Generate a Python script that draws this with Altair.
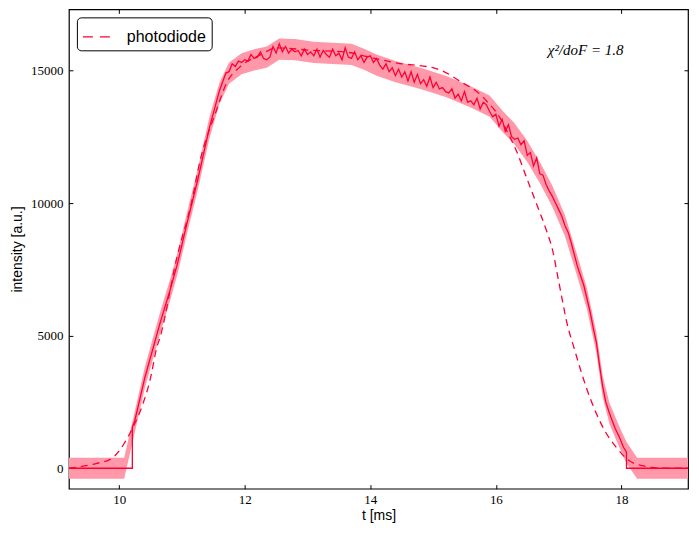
import altair as alt
import pandas as pd

# ---- data ----
# measured signal (solid line)
t_meas = [9.20, 10.21, 10.21, 10.25, 10.41, 10.65, 10.81, 10.93, 11.08, 11.25, 11.44, 11.60,
          11.70, 11.75, 11.80, 11.85, 11.90, 11.95, 12.00, 12.05, 12.10, 12.15, 12.20, 12.25,
          12.30, 12.35, 12.40, 12.45, 12.50, 12.55, 12.60, 12.65, 12.70, 12.75, 12.80, 12.85,
          12.90, 12.95, 13.00, 13.05, 13.10, 13.15, 13.20, 13.25, 13.30, 13.35, 13.40, 13.45,
          13.50, 13.55, 13.60, 13.65, 13.70, 13.75, 13.80, 13.85, 13.90, 13.95, 14.00, 14.05,
          14.10, 14.15, 14.20, 14.25, 14.30, 14.35, 14.40, 14.45, 14.50, 14.55, 14.60, 14.65,
          14.70, 14.75, 14.80, 14.85, 14.90, 14.95, 15.00, 15.05, 15.10, 15.15, 15.20, 15.25,
          15.30, 15.35, 15.40, 15.45, 15.50, 15.55, 15.60, 15.65, 15.70, 15.75, 15.80, 15.85,
          15.90, 15.95, 16.00, 16.05, 16.10, 16.15, 16.20, 16.25, 16.30, 16.35, 16.40, 16.45,
          16.50, 16.55, 16.60, 16.65, 16.70, 16.75, 16.80, 16.85, 16.90, 16.95, 17.00, 17.05,
          17.10, 17.15, 17.20, 17.25, 17.30, 17.35, 17.40, 17.45, 17.50, 17.55, 17.60, 17.65,
          17.70, 17.75, 17.81, 17.90, 17.97, 18.03, 18.07, 18.08, 18.08, 19.10]
y_meas = [0, 0, 1550, 1800, 3423, 5461, 6706, 7725, 9235, 10858, 12858, 14254,
          14900, 14950, 15250, 15150, 15350, 15300, 15400, 15350, 15600, 15450, 15500, 15700,
          15450, 15400, 15500, 15900, 15650, 16000, 15700, 15900, 15650, 15800, 15700, 15750,
          15550, 15800, 15600, 15700, 15550, 15800, 15500, 15750, 15600, 15500, 15800, 15550,
          15650, 15400, 15850, 15500, 15450, 15700, 15400, 15550, 15300, 15500, 15550, 15300,
          15450, 15200, 15050, 15250, 14950, 15100, 14800, 15050, 14750, 14950, 14600, 14950,
          14550, 14850, 14500, 14650, 14400, 14750, 14350, 14550, 14300, 14350, 14200, 14150,
          14300, 13950, 14100, 13850, 14200, 13800, 13850, 13700, 13950, 13550, 13800, 13700,
          13450, 13250, 13350, 12900, 13150, 12700, 12950, 12500, 12400, 12450, 12200, 12350,
          11800, 11900, 11400, 11700, 11100, 11050, 10700, 10450, 10250, 10000, 9750, 9500,
          9150, 8900, 8500, 8050, 7600, 7250, 6900, 6400, 5900, 5300, 4750, 3900,
          3100, 2500, 2064, 1500, 1159, 800, 650, 593, 0, 0]

# uncertainty band (centre and half width)
t_band = [9.20, 10.08, 10.24, 10.41, 10.65, 10.81, 10.93, 11.08, 11.25, 11.44, 11.60, 11.75,
          11.95, 12.15, 12.35, 12.55, 12.80, 13.10, 13.40, 13.70, 13.90, 14.10, 14.40, 14.80,
          15.20, 15.60, 15.90, 16.10, 16.30, 16.50, 16.70, 16.90, 17.10, 17.30, 17.45, 17.60,
          17.70, 17.81, 17.97, 18.08, 18.25, 19.10]
y_band = [0, 0, 1650, 3423, 5461, 6706, 7725, 9235, 10858, 12858, 14150, 14900,
          15250, 15400, 15500, 15800, 15780, 15680, 15640, 15600, 15420, 15200, 14950, 14700,
          14400, 14000, 13650, 13100, 12600, 11950, 11150, 10250, 9150, 7600, 6400, 4750,
          3100, 2064, 1159, 593, 0, 0]
band_err = 400

# photodiode fit (dashed line)
t_fit = [9.20, 9.63, 9.88, 10.08, 10.20, 10.38, 10.49, 10.60, 10.65, 10.92, 11.16, 11.28,
         11.55, 11.71, 11.92, 12.24, 12.51, 13.03, 13.62, 13.91, 14.43, 15.02, 15.15, 15.45,
         15.71, 15.87, 16.06, 16.20, 16.33, 16.49, 16.65, 16.80, 16.90, 17.00, 17.06, 17.12,
         17.25, 17.44, 17.60, 17.76, 17.92, 18.12, 18.33, 18.71, 19.10]
y_fit = [0, 177, 366, 934, 1450, 2440, 3300, 4554, 4925, 7952, 10100, 11500,
         13500, 14520, 15122, 15575, 15850, 15764, 15688, 15540, 15273, 15085, 14980, 14556,
         14180, 13800, 13236, 12600, 11950, 10950, 9950, 9000, 8250, 7050, 6322, 5600,
         4500, 3046, 2064, 1310, 781, 290, 100, 0, 0]

annotation = "χ²/doF = 1.8"
annot_t, annot_y = 17.43, 15760

x_ticks = [10, 12, 14, 16, 18]
y_ticks = [0, 5000, 10000, 15000]
x_domain = [9.2, 19.06]
y_domain = [-770, 17300]

LINE = "#ff0033"
BAND = "#ff99a9"
SANS = "Liberation Sans"
SERIF = "Liberation Serif"

meas = pd.DataFrame({"t": t_meas, "y": y_meas, "i": list(range(len(t_meas)))})
band = pd.DataFrame({"t": t_band, "lo": [v - band_err for v in y_band],
                     "hi": [v + band_err for v in y_band]})
fit = pd.DataFrame({"t": t_fit, "y": y_fit, "series": ["photodiode"] * len(t_fit)})
ann = pd.DataFrame({"t": [annot_t], "y": [annot_y], "txt": [annotation]})

xs = alt.Scale(domain=x_domain, nice=False, zero=False)
ys = alt.Scale(domain=y_domain, nice=False, zero=False)

x_axis = alt.Axis(values=x_ticks, format="d", title="t [ms]", grid=False, domain=False,
                  offset=-4, tickSize=4, tickColor="black", labelPadding=5,
                  labelFont=SERIF, labelFontSize=13, labelColor="black",
                  titleFont=SANS, titleFontSize=14, titleFontWeight="normal",
                  titleColor="black", titlePadding=2)
y_axis = alt.Axis(values=y_ticks, format="d", title="intensity [a.u.]", grid=False,
                  domain=False, offset=-4, tickSize=4, tickColor="black", labelPadding=6,
                  labelFont=SERIF, labelFontSize=13, labelColor="black",
                  titleFont=SANS, titleFontSize=14, titleFontWeight="normal",
                  titleColor="black", titlePadding=6)
x_top = alt.Axis(values=x_ticks, orient="top", labels=False, title=None, grid=False,
                 domain=False, offset=-4, tickSize=4, tickColor="black")
y_right = alt.Axis(values=y_ticks, orient="right", labels=False, title=None, grid=False,
                   domain=False, offset=-4, tickSize=4, tickColor="black")

band_layer = alt.Chart(band).mark_area(color=BAND, opacity=1, clip=True).encode(
    x=alt.X("t:Q", scale=xs, axis=x_axis),
    y=alt.Y("lo:Q", scale=ys, axis=y_axis),
    y2="hi:Q",
)

meas_layer = alt.Chart(meas).mark_line(color=LINE, strokeWidth=1.3, clip=True).encode(
    x=alt.X("t:Q", scale=xs, axis=x_top),
    y=alt.Y("y:Q", scale=ys, axis=y_right),
    order="i:Q",
)

fit_layer = alt.Chart(fit).mark_line(strokeWidth=1.3, strokeDash=[7, 5], clip=True,
                                     interpolate="monotone").encode(
    x=alt.X("t:Q", scale=xs, axis=None),
    y=alt.Y("y:Q", scale=ys, axis=None),
    color=alt.Color("series:N", scale=alt.Scale(range=[LINE]),
                    legend=alt.Legend(title=None, orient="top-left", offset=8,
                                      symbolType="stroke", symbolDash=[10, 7],
                                      symbolStrokeWidth=1.3, symbolSize=730,
                                      labelFont=SANS, labelFontSize=16, labelColor="black",
                                      strokeColor="black", fillColor="white",
                                      cornerRadius=4, padding=5, labelOffset=16)),
)

text_layer = alt.Chart(ann).mark_text(font=SERIF, fontStyle="italic", fontSize=15,
                                      color="black").encode(
    x=alt.X("t:Q", scale=xs, axis=None), y=alt.Y("y:Q", scale=ys, axis=None),
    text="txt:N")

chart = alt.layer(band_layer, meas_layer, fit_layer, text_layer).resolve_axis(
    x="independent", y="independent"
).properties(
    width=620, height=480, background="white",
    padding={"left": 2, "top": 0, "right": 2, "bottom": 5}
).configure_view(stroke="black", strokeWidth=1.2)

chart.save("out.html", embed_options={"renderer": "svg", "actions": False})
